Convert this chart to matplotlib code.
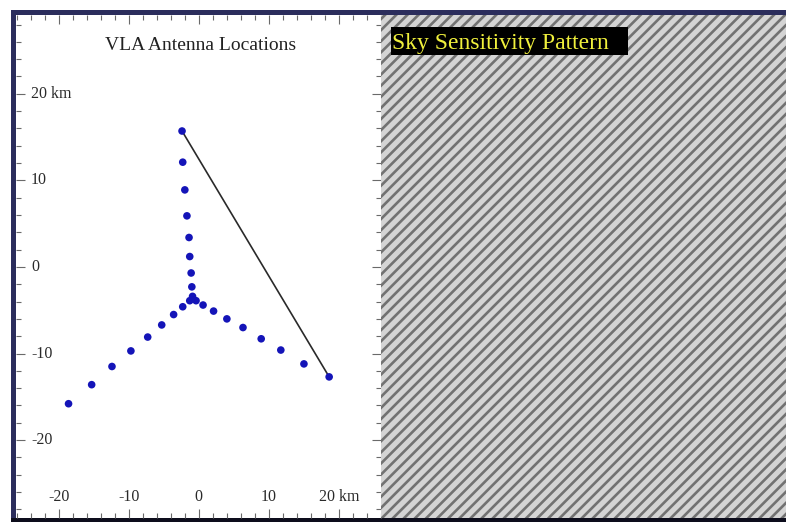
import matplotlib.pyplot as plt
import matplotlib.transforms as mtransforms
from matplotlib.patches import Rectangle
from matplotlib.ticker import MultipleLocator

# antenna positions in km
north_x = [-2.4, -2.3, -2.0, -1.7, -1.4, -1.3, -1.1, -1.0, -0.9]
north_y = [15.7, 12.1, 8.9, 5.9, 3.4, 1.2, -0.7, -2.3, -3.4]
sw_x = [-1.3, -2.3, -3.6, -5.3, -7.3, -9.7, -12.4, -15.3, -18.6]
sw_y = [-3.9, -4.6, -5.5, -6.7, -8.1, -9.7, -11.5, -13.6, -15.8]
se_x = [-0.4, 0.6, 2.1, 4.0, 6.3, 8.9, 11.7, 15.0, 18.6]
se_y = [-3.9, -4.4, -5.1, -6.0, -7.0, -8.3, -9.6, -11.2, -12.7]

# the one baseline drawn: end of north arm to end of south-east arm
baseline_x = [north_x[0], se_x[-1]]
baseline_y = [north_y[0], se_y[-1]]

xticks = [-20, -10, 0, 10, 20]
xtick_labels = ['-20', '-10', '0', '10', '20 km']
yticks = [20, 10, 0, -10, -20]
ytick_labels = ['20 km', '10', '0', '-10', '-20']

plt.rcParams['font.family'] = ['Liberation Serif', 'DejaVu Serif']
plt.rcParams['hatch.linewidth'] = 1.9

W, H = 786, 522
fig = plt.figure(figsize=(W / 100, H / 100), dpi=100, facecolor='white')


def px_axes(x0, y0, x1, y1):
    # pixel box (top-left origin) -> figure fraction
    return [x0 / W, 1 - y1 / H, (x1 - x0) / W, (y1 - y0) / H]


# navy frame behind the two panels
fig.patches.append(Rectangle((11 / W, 0), 1, 1 - 10 / H, transform=fig.transFigure,
                             facecolor='#2b2d5c', edgecolor='none', zorder=-2))
fig.patches.append(Rectangle((11 / W, 0), 1, 4 / H, transform=fig.transFigure,
                             facecolor='#0d0d1c', edgecolor='none', zorder=-1))

# left panel: antenna layout
ax = fig.add_axes(px_axes(16, 15, 381, 518))
ax.set_facecolor('white')
ax.set_xlim(-26.1, 26.0)
ax.set_ylim(-29.0, 29.1)

ax.plot(baseline_x, baseline_y, color='#2a2a2a', lw=1.2, zorder=2)
for xs, ys in [(north_x, north_y), (sw_x, sw_y), (se_x, se_y)]:
    ax.scatter(xs, ys, s=30, color='#1414b8', edgecolors='none', zorder=3)

ax.xaxis.set_major_locator(MultipleLocator(10))
ax.xaxis.set_minor_locator(MultipleLocator(2))
ax.yaxis.set_major_locator(MultipleLocator(10))
ax.yaxis.set_minor_locator(MultipleLocator(2))
ax.tick_params(which='both', direction='in', top=True, right=True,
               labelbottom=False, labelleft=False, color='#6a6a6a', width=0.8)
ax.tick_params(which='major', length=6.5)
ax.tick_params(which='minor', length=3.5)
for s in ax.spines.values():
    s.set_visible(False)

# tick labels sit inside the frame
ylab_tr = mtransforms.blended_transform_factory(ax.transAxes, ax.transData)
for v, lab in zip(yticks, ytick_labels):
    ax.text(0.041, v, lab, transform=ylab_tr, ha='left', va='center',
            fontsize=11.5, color='#2a2a2a')
xlab_tr = mtransforms.blended_transform_factory(ax.transData, ax.transAxes)
for v, lab in zip(xticks, xtick_labels):
    ax.text(v, 0.042, lab, transform=xlab_tr, ha='center', va='center',
            fontsize=11.5, color='#2a2a2a')

ax.text(0.505, 0.94, 'VLA Antenna Locations', transform=ax.transAxes,
        ha='center', va='center', fontsize=14, color='#222222')

# right panel: empty striped placeholder
ax2 = fig.add_axes(px_axes(381, 15, 786, 518))
ax2.set_facecolor('#d4d4d4')
ax2.add_patch(Rectangle((0, 0), 1, 1, transform=ax2.transAxes, facecolor='none',
                        edgecolor='#727272', hatch='///', lw=0))
ax2.set_xticks([])
ax2.set_yticks([])
for s in ax2.spines.values():
    s.set_visible(False)

ax2.add_patch(Rectangle((0.0247, 0.9205), 0.585, 0.0555, transform=ax2.transAxes,
                        facecolor='black', edgecolor='none', zorder=3))
ax2.text(0.027, 0.932, 'Sky Sensitivity Pattern', transform=ax2.transAxes,
         ha='left', va='baseline', fontsize=17, color='#f0f03c', zorder=4)

fig.savefig('out.png', dpi=100, facecolor='white')
